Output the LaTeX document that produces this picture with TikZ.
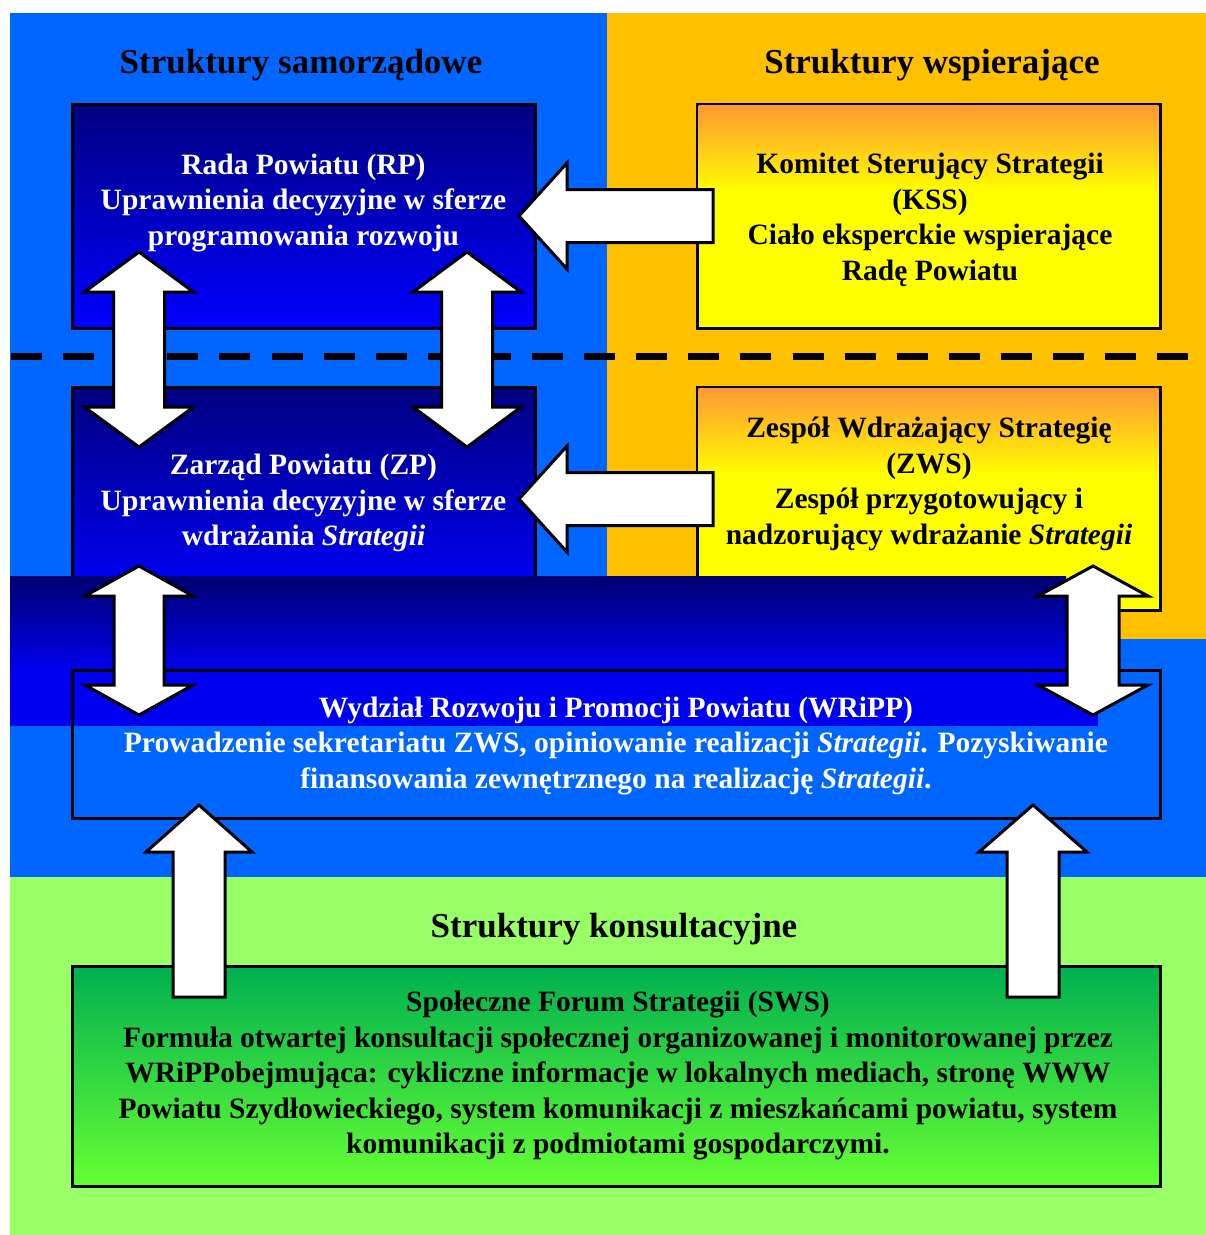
\documentclass[tikz,border=0pt]{standalone}
\usepackage{fontspec}
\setmainfont{Liberation Serif}
\definecolor{bgblue}{RGB}{0,102,255}
\definecolor{bgorange}{RGB}{255,192,0}
\definecolor{bggreen}{RGB}{153,255,102}
\definecolor{navytop}{RGB}{0,0,128}
\definecolor{bluebot}{RGB}{0,0,255}
\definecolor{orangetop}{RGB}{255,153,51}
\definecolor{yel}{RGB}{255,255,0}
\definecolor{greentop}{RGB}{0,176,80}
\definecolor{greenbot}{RGB}{102,255,51}
\definecolor{bandtop}{RGB}{0,0,112}
\definecolor{bandbot}{RGB}{0,0,238}
\newcommand\myBody{\bfseries\fontsize{29.5}{35.5}\selectfont}
\newcommand\myTitle{\bfseries\fontsize{35}{40}\selectfont}
\newcommand\myLeftArrow[1]{%
  \draw[blockarr] (519,#1) -- (567,#1-53) -- (567,#1-26.5) -- (713,#1-26.5)
    -- (713,#1+26.5) -- (567,#1+26.5) -- (567,#1+53) -- cycle;}
\newcommand\myDoubleArrow[6]{%
  \draw[blockarr] (#1,#2) -- (#1+#5,#2+#4) -- (#1+#6,#2+#4) -- (#1+#6,#3-#4)
    -- (#1+#5,#3-#4) -- (#1,#3) -- (#1-#5,#3-#4) -- (#1-#6,#3-#4)
    -- (#1-#6,#2+#4) -- (#1-#5,#2+#4) -- cycle;}
\newcommand\myUpArrow[6]{%
  \draw[blockarr] (#1,#2) -- (#1+#5,#2+#4) -- (#1+#6,#2+#4) -- (#1+#6,#3)
    -- (#1-#6,#3) -- (#1-#6,#2+#4) -- (#1-#5,#2+#4) -- cycle;}
\tikzset{
  boxline/.style={draw=black, line width=3pt, inner sep=0pt},
  govbox/.style={boxline, top color=navytop, bottom color=bluebot},
  supbox/.style={boxline, fill=yel},
  conbox/.style={boxline, top color=greentop, bottom color=greenbot},
  blockarr/.style={fill=white, draw=black, line width=3pt, line join=miter},
  whitetxt/.style={text=white, font=\myBody, align=center, inner sep=0pt},
  blacktxt/.style={text=black, font=\myBody, align=center, inner sep=0pt},
  titletxt/.style={text=black, font=\myTitle, anchor=base, inner sep=0pt}
}
\begin{document}
\begin{tikzpicture}[x=1pt,y=-1pt]
\useasboundingbox (0,0) rectangle (1206,1235);
\fill[white] (0,0) rectangle (1206,1235);
% backgrounds
\fill[bgblue] (10,13) rectangle (1206,877);
\fill[bgorange] (607,13) rectangle (1206,639);
\fill[bggreen] (10,877) rectangle (1206,1235);
% dashed separator
\coordinate (dl) at (11,356);
\coordinate (dr) at (1190,356);
\draw[line width=7pt, dash pattern=on 31pt off 21.1pt] (dl) -- (dr);
% titles
\node[titletxt] (t1) at (301,73) {Struktury samorządowe};
\node[titletxt] (t2) at (932,73) {Struktury wspierające};
\node[titletxt] (t3) at (614,937) {Struktury konsultacyjne};
% boxes
\node[govbox, minimum width=463pt, minimum height=224pt] (rp) at (303.5,216) {};
\node[govbox, minimum width=463pt, minimum height=223pt] (zp) at (303.5,498.5) {};
\node[supbox, minimum width=463pt, minimum height=224pt] (kss) at (928.5,216) {};
\fill[top color=orangetop, bottom color=yel] (698.5,105.5) rectangle (1158.5,192);
\node[supbox, minimum width=463pt, minimum height=223pt] (zws) at (928.5,498.5) {};
\fill[top color=orangetop, bottom color=yel] (698.5,388.5) rectangle (1158.5,475);
% dark band
\fill[top color=bandtop, bottom color=bandbot] (10,576) rectangle (1066,670);
\fill[bluebot!94!black] (10,670) rectangle (1098,726);
\node[boxline, minimum width=1088pt, minimum height=148pt] (wripp) at (616,744) {};
\node[conbox, minimum width=1088pt, minimum height=220pt] (sws) at (616,1076) {};
% texts
\node[whitetxt] (rpt) at (303.5,203) {Rada Powiatu (RP)\\Uprawnienia decyzyjne w sferze\\programowania rozwoju};
\node[blacktxt] (ksst) at (930,220) {Komitet Sterujący Strategii\\(KSS)\\Ciało eksperckie wspierające\\Radę Powiatu};
\node[whitetxt] (zpt) at (303.5,503) {Zarząd Powiatu (ZP)\\Uprawnienia decyzyjne w sferze\\wdrażania \textit{Strategii}};
\node[blacktxt] (zwst) at (929,484) {Zespół Wdrażający Strategię\\(ZWS)\\Zespół przygotowujący i\\nadzorujący wdrażanie \textit{Strategii}};
\node[whitetxt] (wrippt) at (616,746) {Wydział Rozwoju i Promocji Powiatu (WRiPP)\\Prowadzenie sekretariatu ZWS, opiniowanie realizacji \textit{Strategii}. Pozyskiwanie\\finansowania zewnętrznego na realizację \textit{Strategii}.};
\node[blacktxt] (swst) at (618,1076) {Społeczne Forum Strategii (SWS)\\Formuła otwartej konsultacji społecznej organizowanej i monitorowanej przez\\WRiPPobejmująca: cykliczne informacje w lokalnych mediach, stronę WWW\\Powiatu Szydłowieckiego, system komunikacji z mieszkańcami powiatu, system\\komunikacji z podmiotami gospodarczymi.};
% block arrows
\myLeftArrow{216}
\myLeftArrow{499}
\myDoubleArrow{139}{252}{447}{40}{54.5}{25.5}
\myDoubleArrow{467}{252}{447}{40}{54}{25.5}
\myDoubleArrow{139}{566}{715}{30}{54}{25}
\myDoubleArrow{1093}{566}{715}{30}{55}{26}
\myUpArrow{199}{805}{997}{47}{53}{26}
\myUpArrow{1033}{805}{997}{47}{54}{26}
\end{tikzpicture}
\end{document}
